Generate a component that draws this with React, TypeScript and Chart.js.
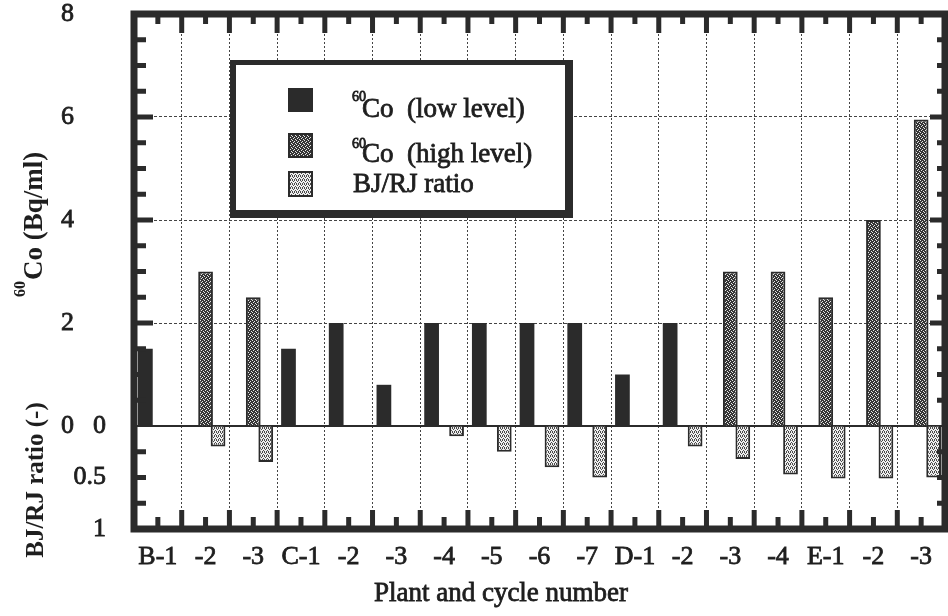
import React, { useEffect, useRef } from 'react';
import { Chart, registerables } from 'chart.js';

Chart.register(...registerables);

// ---- data ----
const categories = ['B-1', '-2', '-3', 'C-1', '-2', '-3', '-4', '-5', '-6', '-7', 'D-1', '-2', '-3', '-4', 'E-1', '-2', '-3'];
const co60Low = [1.5, null, null, 1.5, 2.0, 0.8, 2.0, 2.0, 2.0, 2.0, 1.0, 2.0, null, null, null, null, null];
const co60High = [null, 3.0, 2.5, null, null, null, null, null, null, null, null, null, 3.0, 3.0, 2.5, 4.0, 5.95];
const bjRjRatio = [null, 0.2, 0.35, null, null, null, 0.1, 0.25, 0.4, 0.5, null, 0.2, 0.32, 0.47, 0.51, 0.51, 0.5];
const coTicks = [0, 2, 4, 6, 8];
const ratioTicks = [0, 0.5, 1];
const seriesLabels = ['(low level)', '(high level)', 'BJ/RJ ratio'];
const RATIO_UNIT = 2; // a ratio of 1.0 spans 2 Bq/ml on the shared axis
const AXIS_MIN = -2;
const AXIS_MAX = 8;

const INK = '#2b2b2b';
const TEXT = '#1e1e1e';
const GRID = '#444444';
const FONT = "'Liberation Serif', 'Times New Roman', serif";
const STROKE = 0.8;

function makePattern(bg: string, fg: string, pts: number[][], size: number) {
  const c = document.createElement('canvas');
  c.width = size;
  c.height = size;
  const g = c.getContext('2d')!;
  g.fillStyle = bg;
  g.fillRect(0, 0, size, size);
  g.fillStyle = fg;
  pts.forEach(([x, y]) => g.fillRect(x, y, 1, 1));
  return g.createPattern(c, 'repeat')!;
}

function heavyText(ctx: CanvasRenderingContext2D, s: string, x: number, y: number) {
  ctx.fillText(s, x, y);
  ctx.strokeText(s, x, y);
}

export default function App() {
  const ref = useRef<HTMLCanvasElement>(null);

  useEffect(() => {
    document.body.style.margin = '0';
    const canvas = ref.current!;
    const highPat = makePattern('#353535', '#e6e6e6', [[0, 0], [2, 1], [1, 2], [3, 3]], 4);
    const ratioPat = makePattern('#efefef', '#4a4a4a', [[0, 0], [2, 0], [1, 1], [3, 2], [0, 3], [2, 3]], 4);

    const decor = {
      id: 'decor',
      beforeDatasetsDraw(chart: any) {
        const { ctx, chartArea: a, scales } = chart;
        const y0 = scales.y.getPixelForValue(0);
        ctx.save();
        ctx.strokeStyle = INK;
        ctx.lineWidth = 2;
        ctx.beginPath();
        ctx.moveTo(a.left, y0);
        ctx.lineTo(a.right, y0);
        ctx.stroke();
        ctx.restore();
      },
      afterDraw(chart: any) {
        const { ctx, chartArea: a, scales } = chart;
        const xs = scales.x;
        const ys = scales.y;
        ctx.save();
        // frame
        ctx.strokeStyle = INK;
        ctx.lineWidth = 7;
        ctx.strokeRect(a.left, a.top, a.right - a.left, a.bottom - a.top);
        ctx.fillStyle = INK;
        const TW = 5;
        const LONG = 19;
        const SHORT = 12;
        const n = categories.length;
        // x ticks (top & bottom)
        for (let k = 0; k <= n; k++) {
          const px = xs.getPixelForValue(k - 0.5);
          ctx.fillRect(px - TW / 2, a.top, TW, LONG);
          ctx.fillRect(px - TW / 2, a.bottom - LONG, TW, LONG);
        }
        for (let k = 0; k < n; k++) {
          const px = xs.getPixelForValue(k);
          ctx.fillRect(px - TW / 2, a.top, TW, SHORT - 2);
          ctx.fillRect(px - TW / 2, a.bottom - SHORT, TW, SHORT);
        }
        // y ticks (left & right)
        const majors = coTicks.filter((v) => v > 0 && v < AXIS_MAX);
        for (let v = AXIS_MIN + 0.5; v < AXIS_MAX; v += 0.5) {
          if (v === 0) continue;
          const py = ys.getPixelForValue(v);
          const len = majors.includes(v) ? LONG : SHORT;
          ctx.fillRect(a.left, py - TW / 2, len, TW);
          ctx.fillRect(a.right - len + 4, py - TW / 2, len - 4, TW);
        }

        // legend box
        ctx.fillStyle = INK;
        ctx.fillRect(230, 60, 343, 158);
        ctx.fillStyle = '#ffffff';
        ctx.fillRect(236, 65, 329, 145);
        // swatches
        ctx.fillStyle = INK;
        ctx.fillRect(288, 88, 25, 24);
        ctx.fillStyle = highPat;
        ctx.fillRect(288, 133, 25, 25);
        ctx.strokeStyle = INK;
        ctx.lineWidth = 2;
        ctx.strokeRect(289, 134, 23, 23);
        ctx.fillStyle = ratioPat;
        ctx.fillRect(288, 171, 25, 26);
        ctx.strokeRect(289, 172, 23, 24);
        // legend text
        ctx.fillStyle = TEXT;
        ctx.strokeStyle = TEXT;
        ctx.lineWidth = STROKE;
        ctx.textBaseline = 'alphabetic';
        ctx.textAlign = 'left';
        ctx.font = `14px ${FONT}`;
        heavyText(ctx, '60', 352, 101);
        heavyText(ctx, '60', 352, 148);
        ctx.font = `27px ${FONT}`;
        heavyText(ctx, 'Co  ' + seriesLabels[0], 362, 117);
        heavyText(ctx, 'Co  ' + seriesLabels[1], 362, 162);
        heavyText(ctx, seriesLabels[2], 353, 192);

        // x axis title
        ctx.font = `27px ${FONT}`;
        ctx.textAlign = 'center';
        heavyText(ctx, 'Plant and cycle number', 501, 601);

        // y axis titles (rotated)
        ctx.save();
        ctx.translate(42, 297);
        ctx.rotate(-Math.PI / 2);
        ctx.textAlign = 'left';
        ctx.font = `bold 16px ${FONT}`;
        ctx.fillText('60', 0, -17);
        ctx.font = `bold 27px ${FONT}`;
        ctx.fillText('Co (Bq/ml)', 17, 0);
        ctx.restore();

        ctx.save();
        ctx.translate(43, 480);
        ctx.rotate(-Math.PI / 2);
        ctx.textAlign = 'center';
        ctx.font = `bold 25px ${FONT}`;
        ctx.fillText('BJ/RJ ratio (-)', 0, 0);
        ctx.restore();

        ctx.restore();
      },
    };

    const tickFont = { size: 26, family: FONT };

    const chart = new Chart(canvas, {
      type: 'bar',
      data: {
        labels: categories,
        datasets: [
          { label: seriesLabels[0], data: co60Low, backgroundColor: INK, borderWidth: 0, yAxisID: 'y' },
          { label: seriesLabels[1], data: co60High, backgroundColor: highPat, borderColor: INK, borderWidth: 2, yAxisID: 'y' },
          {
            label: seriesLabels[2],
            data: bjRjRatio.map((v) => (v == null ? null : -v * RATIO_UNIT)),
            backgroundColor: ratioPat,
            borderColor: INK,
            borderWidth: 2,
            yAxisID: 'y',
          },
        ] as any,
      },
      options: {
        responsive: false,
        animation: false,
        devicePixelRatio: 1,
        layout: { padding: { top: 14, right: 3, left: 0, bottom: 0 } },
        datasets: { bar: { categoryPercentage: 0.785, barPercentage: 1.18 } },
        plugins: { legend: { display: false }, tooltip: { enabled: false } },
        font: { family: FONT },
        scales: {
          x: {
            offset: true,
            grid: { display: true, offset: true, drawTicks: false, color: GRID, lineWidth: 1 },
            border: { display: false, dash: [2, 2] },
            ticks: {
              autoSkip: false,
              maxRotation: 0,
              minRotation: 0,
              padding: 13,
              color: TEXT,
              textStrokeColor: TEXT,
              textStrokeWidth: STROKE,
              font: tickFont,
            },
            afterFit: (s: any) => {
              s.height = 87;
              s.paddingLeft = 0;
              s.paddingRight = 0;
            },
          },
          y: {
            position: 'left',
            weight: 1,
            min: AXIS_MIN,
            max: AXIS_MAX,
            grid: {
              drawTicks: false,
              lineWidth: 1,
              color: (c: any) => (coTicks.filter((v) => v > 0 && v < AXIS_MAX).includes(c.tick?.value) ? GRID : 'rgba(0,0,0,0)'),
            },
            border: { display: false, dash: [3, 2] },
            ticks: {
              stepSize: 2,
              autoSkip: false,
              padding: 0,
              color: TEXT,
              textStrokeColor: TEXT,
              textStrokeWidth: STROKE,
              font: tickFont,
              callback: (v: any) => (coTicks.includes(v) ? String(v) : ''),
            },
            afterFit: (s: any) => {
              s.width = 74;
              s.paddingTop = 0;
              s.paddingBottom = 0;
            },
          },
          y2: {
            position: 'left',
            weight: 0,
            min: AXIS_MIN,
            max: AXIS_MAX,
            grid: { display: false, drawTicks: false },
            border: { display: false },
            ticks: {
              stepSize: 1,
              autoSkip: false,
              padding: 28,
              color: TEXT,
              textStrokeColor: TEXT,
              textStrokeWidth: STROKE,
              font: tickFont,
              callback: (v: any) => {
                const r = -v / RATIO_UNIT;
                return v <= 0 && ratioTicks.includes(r) ? String(r) : '';
              },
            },
            afterFit: (s: any) => {
              s.width = 60;
              s.paddingTop = 0;
              s.paddingBottom = 0;
            },
          },
        },
      } as any,
      plugins: [decor],
    });
    return () => chart.destroy();
  }, []);

  return <canvas ref={ref} width={948} height={616} style={{ display: 'block' }} />;
}
